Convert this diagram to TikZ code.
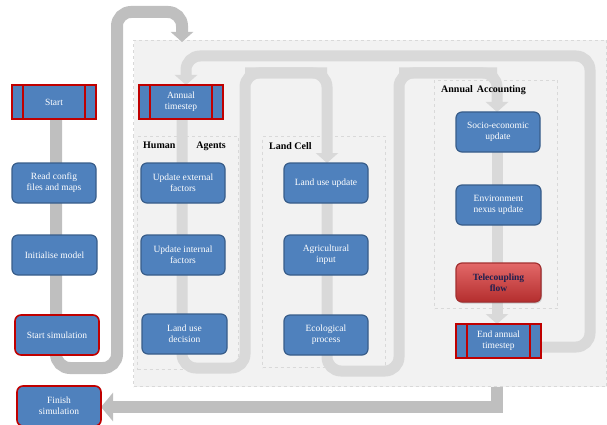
\documentclass[tikz,border=0pt]{standalone}
\usepackage{fontspec}
\setmainfont{Liberation Serif}
\usetikzlibrary{arrows.meta,shadows}
\definecolor{nodeblue}{HTML}{4F81BD}
\definecolor{nodeedge}{HTML}{385D8A}
\definecolor{redge}{HTML}{C00000}
\definecolor{outerline}{HTML}{BFBFBF}
\definecolor{innerline}{HTML}{D9D9D9}
\definecolor{panelfill}{HTML}{F2F2F2}
\definecolor{paneledge}{HTML}{D9D9D9}
\definecolor{teletop}{HTML}{E36868}
\definecolor{telebot}{HTML}{B42E2E}
\definecolor{teleedge}{HTML}{A33030}
\definecolor{teletext}{HTML}{1F1F4F}
\begin{document}
\begin{tikzpicture}[x=1pt,y=1pt,
  box/.style={draw=nodeedge, line width=1.2pt, fill=nodeblue, rounded corners=6pt,
    text=white, minimum width=84pt, minimum height=40pt, inner sep=1pt, align=center,
    font=\fontsize{9.5}{11}\selectfont},
  redbox/.style={box, draw=redge, line width=1.6pt},
  procbox/.style={box, rounded corners=0pt, draw=redge, line width=1.8pt, minimum height=34pt,
    path picture={\draw[redge, line width=2pt]
      ([xshift=11pt]path picture bounding box.north west) -- ([xshift=11pt]path picture bounding box.south west)
      ([xshift=-11pt]path picture bounding box.north east) -- ([xshift=-11pt]path picture bounding box.south east);}},
  telebox/.style={box, draw=teleedge, top color=teletop, bottom color=telebot, text=teletext,
    font=\bfseries\fontsize{9.5}{11}\selectfont,
    drop shadow={opacity=0.35, shadow xshift=1pt, shadow yshift=-1.5pt}},
  panel/.style={draw=paneledge, dashed, line width=1pt, fill=panelfill},
  subpanel/.style={draw=paneledge, dashed, line width=1pt},
  hdr/.style={font=\bfseries\fontsize{10}{12}\selectfont, inner sep=0pt, anchor=west},
  outerflow/.style={draw=outerline, line width=12pt, rounded corners=14pt},
  innerflow/.style={draw=innerline, line width=11pt, rounded corners=14pt},
  bigtip/.style={-{Triangle[width=22pt,length=10pt]}}
]
\useasboundingbox (0,0) rectangle (607,-425);

% nodes (placed first as coordinates, drawn later on top via layering order)
\coordinate (topin) at (182,-42);

% bottom return arrow (behind panel)
\draw[outerflow, rounded corners=0pt, -{Triangle[width=28pt,length=12pt]}]
  (497,-340) -- (497,-407) -- (101,-407);

% main panel
\node[panel, minimum width=473pt, minimum height=346pt, anchor=north west, inner sep=0pt] (mainpanel) at (133,-40) {};
\node[subpanel, minimum width=101pt, minimum height=233pt, anchor=north west, inner sep=0pt] (hapanel) at (137,-136) {};
\node[subpanel, minimum width=123pt, minimum height=231pt, anchor=north west, inner sep=0pt] (lcpanel) at (262,-136) {};
\node[subpanel, minimum width=123pt, minimum height=228pt, anchor=north west, inner sep=0pt] (aapanel) at (434,-80) {};

% outer flow: left column to panel top
\draw[outerflow, bigtip] (56,-102) -- (56,-368) -- (117,-368) -- (117,-12) -- (182,-12) -- (topin);

% inner flows
\draw[innerflow] (182,-102) -- (182,-368) -- (245,-368) -- (245,-73) -- (327,-73);
\draw[innerflow, bigtip] (245,-73) -- (327,-73) -- (327,-163);
\draw[innerflow] (327,-183) -- (327,-371) -- (399,-371) -- (399,-73) -- (497,-73);
\draw[innerflow, bigtip] (399,-73) -- (497,-73) -- (497,-112);
\draw[innerflow, bigtip] (497,-132) -- (497,-324);
\draw[innerflow, bigtip] (541,-347) -- (590,-347) -- (590,-56) -- (186,-56) -- (186,-85);

% headers
\node[hdr] (hhuman) at (143,-146) {Human\hspace{21pt}Agents};
\node[hdr] (hland) at (269,-146) {Land Cell};
\node[hdr] (hacc) at (441,-90) {Annual\hspace{4pt}Accounting};

% left column
\node[procbox] (start) at (54,-102) {Start};
\node[box] (readcfg) at (54,-183) {Read config\\files and maps};
\node[box, minimum width=85pt] (initm) at (54.5,-255) {Initialise model};
\node[redbox] (startsim) at (57,-335) {Start simulation};
\node[redbox] (finishsim) at (59,-406) {Finish\\simulation};

% human agents
\node[procbox] (annualts) at (181,-102) {Annual\\timestep};
\node[box] (upext) at (183,-183) {Update external\\factors};
\node[box] (upint) at (183,-255) {Update internal\\factors};
\node[box, minimum width=85pt] (ludec) at (184.5,-334) {Land use\\decision};

% land cell
\node[box] (luupd) at (326,-183) {Land use update};
\node[box] (agri) at (326,-255) {Agricultural\\input};
\node[box] (eco) at (326,-335) {Ecological\\process};

% accounting
\node[box] (socio) at (498,-132) {Socio-economic\\update};
\node[box, minimum width=85pt] (envnex) at (498.5,-205) {Environment\\nexus update};
\node[telebox, minimum width=85pt, minimum height=39pt] (telec) at (498.5,-282.5) {Telecoupling\\flow};
\node[procbox, minimum width=85pt] (endts) at (498.5,-341) {End annual\\timestep};
\end{tikzpicture}
\end{document}
